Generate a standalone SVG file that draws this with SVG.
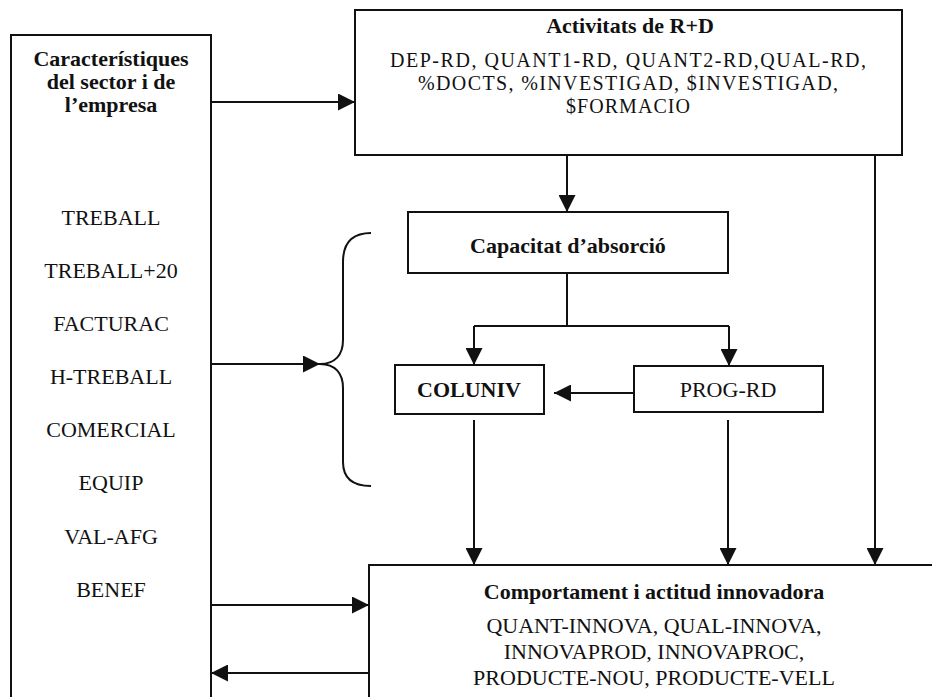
<svg xmlns="http://www.w3.org/2000/svg" width="932" height="697" viewBox="0 0 932 697">
<style>
.box{fill:#fff;stroke:#111;stroke-width:2}
.ln{fill:none;stroke:#111;stroke-width:2}
text{font-family:"Liberation Serif","Times New Roman",serif;font-size:22px;fill:#111;text-anchor:middle}
.b{font-weight:bold}
.s{font-size:20px}
</style>
<defs>
<marker id="ah" markerUnits="userSpaceOnUse" markerWidth="17" markerHeight="17" refX="17" refY="8.5" orient="auto">
<path d="M0,0 L17,8.5 L0,17 z" fill="#111"/>
</marker>
</defs>
<rect width="932" height="697" fill="#fff"/>
<g id="connectors">
<line class="ln" x1="211" y1="102" x2="355" y2="102" marker-end="url(#ah)"/>
<line class="ln" x1="567" y1="155" x2="567" y2="212" marker-end="url(#ah)"/>
<polyline class="ln" points="567,273 567,326"/>
<polyline class="ln" points="474,326 729,326"/>
<line class="ln" x1="474" y1="326" x2="474" y2="365" marker-end="url(#ah)"/>
<line class="ln" x1="729" y1="326" x2="729" y2="366" marker-end="url(#ah)"/>
<line class="ln" x1="634" y1="393" x2="554" y2="393" marker-end="url(#ah)"/>
<line class="ln" x1="474" y1="420" x2="474" y2="565" marker-end="url(#ah)"/>
<line class="ln" x1="728" y1="420" x2="728" y2="565" marker-end="url(#ah)"/>
<line class="ln" x1="875" y1="155" x2="875" y2="565" marker-end="url(#ah)"/>
<line class="ln" x1="211" y1="364" x2="320" y2="364" marker-end="url(#ah)"/>
<path class="ln" d="M371,233 C352,233 343,243 343,262 L343,340 C343,355 335,364 320,364 C335,364 343,373 343,388 L343,462 C343,478 352,486 371,486"/>
<line class="ln" x1="211" y1="605" x2="369" y2="605" marker-end="url(#ah)"/>
<line class="ln" x1="369" y1="673" x2="211" y2="673" marker-end="url(#ah)"/>
</g>
<g id="sector">
<rect class="box" x="11" y="35" width="200" height="700"/>
<text class="b" x="111" y="66">Característiques</text>
<text class="b" x="111" y="89">del sector i de</text>
<text class="b" x="111" y="112">l’empresa</text>
<text x="111" y="225">TREBALL</text>
<text x="111" y="278">TREBALL+20</text>
<text x="111" y="331">FACTURAC</text>
<text x="111" y="384">H-TREBALL</text>
<text x="111" y="437">COMERCIAL</text>
<text x="111" y="490">EQUIP</text>
<text x="111" y="544">VAL-AFG</text>
<text x="111" y="597">BENEF</text>
</g>
<g id="rd">
<rect class="box" x="355" y="10" width="547" height="145"/>
<text class="b" x="630" y="33">Activitats de R+D</text>
<text class="s" x="628" y="67" textLength="476" lengthAdjust="spacing">DEP-RD, QUANT1-RD, QUANT2-RD,QUAL-RD,</text>
<text class="s" x="628" y="90" textLength="420" lengthAdjust="spacing">%DOCTS, %INVESTIGAD, $INVESTIGAD,</text>
<text class="s" x="628" y="113" textLength="124" lengthAdjust="spacing">$FORMACIO</text>
</g>
<g id="capacitat">
<rect class="box" x="408" y="212" width="320" height="61"/>
<text class="b" x="568" y="253">Capacitat d’absorció</text>
</g>
<g id="coluniv">
<rect class="box" x="395" y="365" width="149" height="49"/>
<text class="b" x="469" y="397">COLUNIV</text>
</g>
<g id="progrd">
<rect class="box" x="634" y="366" width="189" height="46"/>
<text x="728" y="397">PROG-RD</text>
</g>
<g id="comportament">
<rect class="box" x="369" y="565" width="600" height="200"/>
<text class="b" x="654" y="599">Comportament i actitud innovadora</text>
<text x="654" y="633">QUANT-INNOVA, QUAL-INNOVA,</text>
<text x="654" y="659">INNOVAPROD, INNOVAPROC,</text>
<text x="654" y="685">PRODUCTE-NOU, PRODUCTE-VELL</text>
</g>
</svg>
